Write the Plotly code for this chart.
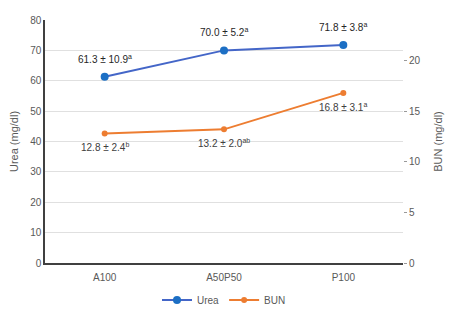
import plotly.graph_objects as go

groups = ["A100", "A50P50", "P100"]
urea = [61.3, 70.0, 71.8]
bun = [12.8, 13.2, 16.8]
urea_labels = ["61.3 ± 10.9<sup>a</sup>", "70.0 ± 5.2<sup>a</sup>", "71.8 ± 3.8<sup>a</sup>"]
bun_labels = ["12.8 ± 2.4<sup>b</sup>", "13.2 ± 2.0<sup>ab</sup>", "16.8 ± 3.1<sup>a</sup>"]

FONT = "Liberation Sans"
GRAY = "#595959"

fig = go.Figure()
fig.add_trace(go.Scatter(
    x=groups, y=urea, name="Urea", mode="lines+markers",
    line=dict(color="#4466C8", width=2),
    marker=dict(color="#1C6FC4", size=8),
))
fig.add_trace(go.Scatter(
    x=groups, y=bun, name="BUN", mode="lines+markers",
    line=dict(color="#ED7D31", width=2),
    marker=dict(color="#ED7D31", size=6),
    yaxis="y2",
))

for g, v, t in zip(groups, urea, urea_labels):
    fig.add_annotation(x=g, y=v, xref="x", yref="y", text=t, showarrow=False,
                       yshift=18, yanchor="middle",
                       font=dict(size=10, color="#262626", family=FONT))
for g, v, t in zip(groups, bun, bun_labels):
    fig.add_annotation(x=g, y=v, xref="x", yref="y2", text=t, showarrow=False,
                       yshift=-14, yanchor="middle",
                       font=dict(size=10, color="#404040", family=FONT))

fig.update_layout(
    width=449, height=304,
    margin=dict(l=37, r=54, t=12, b=49, autoexpand=False),
    paper_bgcolor="white", plot_bgcolor="white",
    font=dict(family=FONT, size=10, color=GRAY),
    showlegend=True,
    legend=dict(orientation="h", x=0.5, xanchor="center", y=-0.152, yanchor="middle",
                font=dict(size=10, color=GRAY), itemwidth=30),
    xaxis=dict(range=[-0.5, 2.5], showline=True, linecolor="#404040", linewidth=1.5,
               showgrid=False, ticks="", automargin=False, ticklabelstandoff=4,
               tickfont=dict(size=10, color=GRAY)),
    yaxis=dict(range=[0, 80], dtick=10, showline=True, linecolor="#404040", linewidth=1.5,
               gridcolor="#e0e0e0", zeroline=False, ticks="", automargin=False,
               title=dict(text="Urea (mg/dl)", font=dict(size=11, color=GRAY), standoff=10),
               tickfont=dict(size=10, color=GRAY)),
    yaxis2=dict(range=[0, 24], dtick=5, overlaying="y", side="right", showgrid=False,
                zeroline=False, showline=False, ticks="outside", ticklen=3, tickcolor="#999999",
                automargin=False,
                title=dict(text="BUN (mg/dl)", font=dict(size=11, color=GRAY), standoff=14),
                tickfont=dict(size=10, color=GRAY)),
)

fig.write_html("out.html")
